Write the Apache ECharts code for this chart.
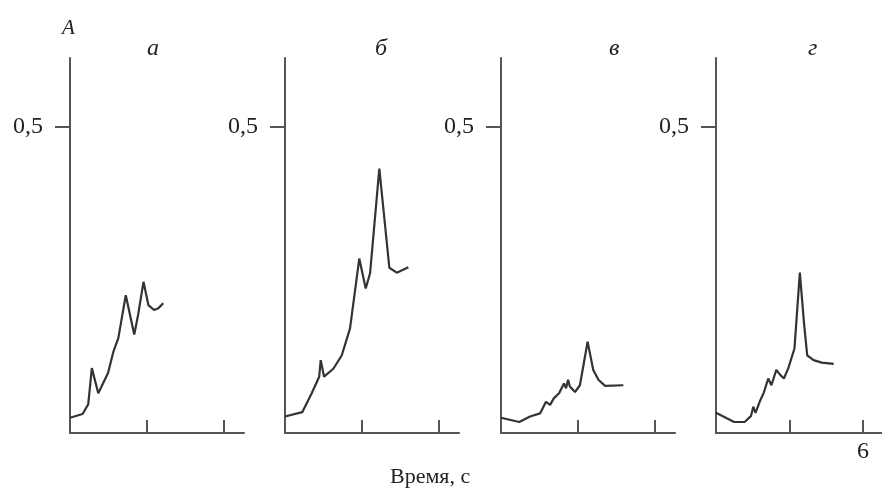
<!DOCTYPE html>
<html>
<head>
<meta charset="utf-8">
<script src="https://cdn.jsdelivr.net/npm/echarts@6/dist/echarts.min.js"></script>
<style>
  html, body { margin: 0; padding: 0; background: #fff; }
  #chart { width: 882px; height: 491px; }
</style>
</head>
<body>
<div id="chart"></div>
<script>
// панели а, б, в, г: время (с) и амплитуда A
var panelNames = ['а', 'б', 'в', 'г'];
var xTicks = [3, 6];
var yTicks = [0.5];

var timeA = [0, 0.49, 0.71, 0.85, 1.10, 1.48, 1.69, 1.88, 2.17, 2.50, 2.65, 2.86, 3.05, 3.27, 3.44, 3.63];
var ampA  = [0.025, 0.031, 0.047, 0.106, 0.065, 0.098, 0.133, 0.155, 0.225, 0.161, 0.193, 0.247, 0.209, 0.201, 0.204, 0.212];

var timeB = [0, 0.67, 1.04, 1.33, 1.39, 1.52, 1.88, 2.21, 2.53, 2.89, 3.14, 3.31, 3.67, 4.06, 4.35, 4.80];
var ampB  = [0.027, 0.034, 0.065, 0.092, 0.119, 0.092, 0.105, 0.127, 0.171, 0.285, 0.236, 0.261, 0.432, 0.270, 0.262, 0.271];

var timeV = [0, 0.71, 1.13, 1.52, 1.75, 1.91, 2.06, 2.26, 2.45, 2.53, 2.61, 2.68, 2.88, 3.07, 3.37, 3.59, 3.79, 4.05, 4.76];
var ampV  = [0.025, 0.018, 0.027, 0.032, 0.051, 0.046, 0.057, 0.065, 0.081, 0.073, 0.087, 0.076, 0.067, 0.078, 0.149, 0.103, 0.087, 0.077, 0.078];

var timeG = [0, 0.74, 1.17, 1.43, 1.52, 1.61, 1.78, 1.95, 2.13, 2.26, 2.46, 2.62, 2.77, 2.95, 3.20, 3.42, 3.59, 3.72, 3.98, 4.31, 4.80];
var ampG  = [0.033, 0.018, 0.018, 0.028, 0.043, 0.033, 0.051, 0.066, 0.089, 0.078, 0.103, 0.095, 0.089, 0.106, 0.138, 0.262, 0.179, 0.127, 0.119, 0.115, 0.113];

var times = [timeA, timeB, timeV, timeG];
var amps = [ampA, ampB, ampV, ampG];

function pairs(xs, ys) {
    return xs.map(function (x, i) { return [x, ys[i]]; });
}

var font = 'Liberation Serif';
var axisColor = '#555';
var lefts = [70, 285, 501, 716];
var titleX = [155, 383, 617, 816];

var grids = [], xAxes = [], yAxes = [], series = [], texts = [];

lefts.forEach(function (left, i) {
    grids.push({ left: left, top: 58, width: 174, height: 375 });
    xAxes.push({
        type: 'value',
        gridIndex: i,
        min: 0,
        max: 6.77,
        axisLine: { show: true, lineStyle: { color: axisColor, width: 2 } },
        axisTick: { show: true, inside: true, length: 13, customValues: xTicks,
            lineStyle: { color: axisColor, width: 2 } },
        axisLabel: {
            show: i === 3,
            customValues: [6],
            margin: 7,
            color: '#222',
            fontFamily: font,
            fontSize: 24
        },
        splitLine: { show: false }
    });
    yAxes.push({
        type: 'value',
        gridIndex: i,
        min: 0,
        max: 0.6127,
        axisLine: { show: true, lineStyle: { color: axisColor, width: 2 } },
        axisTick: { show: true, length: 15, customValues: yTicks,
            lineStyle: { color: axisColor, width: 2 } },
        axisLabel: {
            customValues: yTicks,
            margin: 27,
            color: '#222',
            fontFamily: font,
            fontSize: 24,
            formatter: function (v) { return String(v).replace('.', ','); }
        },
        splitLine: { show: false }
    });
    series.push({
        type: 'line',
        xAxisIndex: i,
        yAxisIndex: i,
        data: pairs(times[i], amps[i]),
        symbol: 'none',
        lineStyle: { color: '#333', width: 2.2 }
    });
    texts.push({
        type: 'text', left: titleX[i] - 8, top: 37,
        style: { text: panelNames[i], font: 'italic 24px "Liberation Serif"', fill: '#222' }
    });
});

texts.push({
    type: 'text', left: 62, top: 18,
    style: { text: 'A', font: 'italic 21px "Liberation Serif"', fill: '#222' }
});
texts.push({
    type: 'text', left: 390, top: 466,
    style: { text: 'Время, с', font: '22px "Liberation Serif"', fill: '#222' }
});

var chart = echarts.init(document.getElementById('chart'));
chart.setOption({
    animation: false,
    grid: grids,
    xAxis: xAxes,
    yAxis: yAxes,
    series: series,
    graphic: texts
});
</script>
</body>
</html>
